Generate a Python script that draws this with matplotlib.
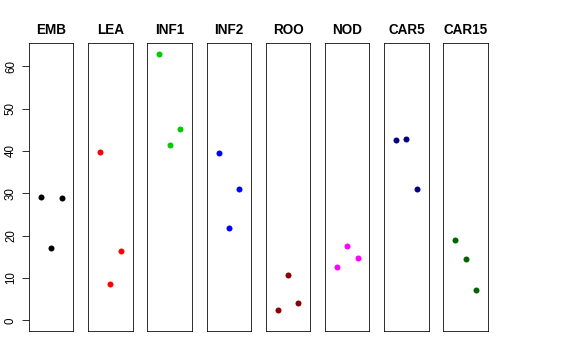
import matplotlib
matplotlib.use("Agg")
import matplotlib.pyplot as plt

plt.rcParams['font.family'] = ['Liberation Sans', 'DejaVu Sans']

tissues = ["EMB", "LEA", "INF1", "INF2", "ROO", "NOD", "CAR5", "CAR15"]
colors = ["#000000", "#FF0000", "#00CD00", "#0000FF", "#8B0000", "#FF00FF", "#000080", "#006400"]
values = {
    "EMB":   [29.2, 17.1, 28.8],
    "LEA":   [39.7, 8.6, 16.4],
    "INF1":  [62.9, 41.5, 45.1],
    "INF2":  [39.5, 21.7, 31.1],
    "ROO":   [2.4, 10.7, 4.0],
    "NOD":   [12.7, 17.5, 14.7],
    "CAR5":  [42.6, 42.9, 31.1],
    "CAR15": [18.9, 14.6, 7.1],
}
reps = [1, 2, 3]
yticks = [0, 10, 20, 30, 40, 50, 60]

ymax = max(max(v) for v in values.values())
ymin = 0
pad = 0.04 * (ymax - ymin)

fig, axes = plt.subplots(1, len(tissues), figsize=(8, 5), dpi=72, sharey=True)
fig.subplots_adjust(left=0.0503, right=0.847, top=0.8797, bottom=0.0806, wspace=0.33)

for i, (ax, t) in enumerate(zip(axes, tissues)):
    ax.plot(reps, values[t], 'o', color=colors[i], markersize=6, markeredgewidth=0)
    ax.set_xlim(-0.16, 4.16)
    ax.set_ylim(ymin - pad, ymax + pad)
    ax.set_xticks([])
    ax.set_title(t, fontsize=13.5, fontweight='bold', pad=9)
    for s in ax.spines.values():
        s.set_linewidth(0.8)
        s.set_color('black')
    if i == 0:
        ax.set_yticks(yticks)
        ax.tick_params(axis='y', length=7, width=0.8, labelsize=11.5, pad=5)
        for lab in ax.get_yticklabels():
            lab.set_rotation(90)
            lab.set_va('center')
    else:
        ax.tick_params(axis='y', left=False, labelleft=False)

fig.savefig("out.png", dpi=72)
